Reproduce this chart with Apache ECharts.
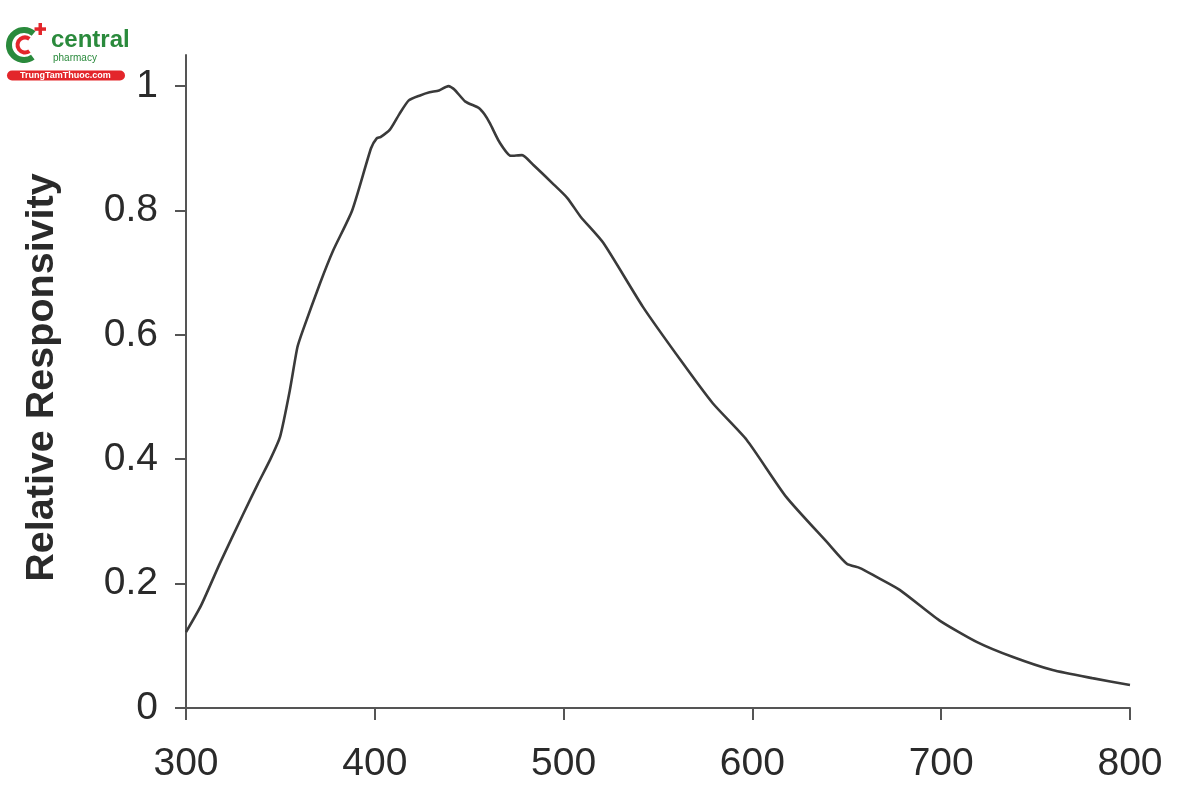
<!DOCTYPE html>
<html>
<head>
<meta charset="utf-8">
<script src="https://cdn.jsdelivr.net/npm/echarts@6/dist/echarts.min.js"></script>
<style>html,body{margin:0;padding:0;background:#fff}#c{width:1200px;height:800px}</style>
</head>
<body>
<div id="c"></div>
<script>
const wavelength = [300, 308, 318, 330, 338, 344.5, 349.8, 355, 359, 362, 371, 378, 388, 398, 401, 403, 408, 413, 418, 424, 429, 434, 439, 442, 448, 455, 458, 461, 466, 472, 478, 484, 494, 502, 509, 521, 542, 563, 579, 597, 618, 640, 650, 657, 665, 678, 699, 719, 738, 759, 780, 800];
const responsivity = [0.122, 0.165, 0.233, 0.31, 0.36, 0.399, 0.436, 0.511, 0.58, 0.608, 0.683, 0.736, 0.8, 0.9, 0.916, 0.918, 0.93, 0.955, 0.977, 0.985, 0.99, 0.993, 1.0, 0.995, 0.975, 0.965, 0.955, 0.94, 0.91, 0.888, 0.889, 0.873, 0.844, 0.82, 0.79, 0.748, 0.645, 0.555, 0.49, 0.431, 0.339, 0.265, 0.232, 0.225, 0.212, 0.19, 0.141, 0.106, 0.082, 0.061, 0.048, 0.037];
const xTicks = [300, 400, 500, 600, 700, 800];
const yTicks = [0, 0.2, 0.4, 0.6, 0.8, 1];
const yTitle = 'Relative Responsivity';

const chart = echarts.init(document.getElementById('c'), null, {renderer: 'canvas'});
const axisColor = '#555';
const labelFont = {fontFamily: 'Liberation Sans, Arial, sans-serif', fontSize: 39, color: '#2a2a2a'};
const green = '#2a8a3c';
const red = '#e3262b';

chart.setOption({
  animation: false,
  backgroundColor: '#fff',
  grid: {left: 186, right: 70, top: 55, bottom: 92},
  xAxis: {
    type: 'value', min: 300, max: 800, interval: 100,
    axisLine: {show: true, onZero: false, lineStyle: {color: axisColor, width: 2}},
    axisTick: {show: true, length: 12, lineStyle: {color: axisColor, width: 2}},
    axisLabel: Object.assign({margin: 37, customValues: xTicks}, labelFont),
    splitLine: {show: false}
  },
  yAxis: {
    type: 'value', min: 0, max: 1.05,
    name: yTitle, nameLocation: 'middle', nameGap: 124,
    nameTextStyle: {fontFamily: 'Liberation Sans, Arial, sans-serif', fontSize: 39.5, fontWeight: 'bold', color: '#2a2a2a', padding: [0, 0, 0, 8]},
    axisLine: {show: true, lineStyle: {color: axisColor, width: 2}},
    axisTick: {show: true, length: 11, customValues: yTicks, lineStyle: {color: axisColor, width: 2}},
    axisLabel: Object.assign({margin: 28, customValues: yTicks, formatter: v => String(+v.toFixed(1))}, labelFont),
    splitLine: {show: false}
  },
  series: [{
    type: 'line',
    data: wavelength.map((w, i) => [w, responsivity[i]]),
    showSymbol: false,
    smooth: 0.2,
    lineStyle: {color: '#3a3a3a', width: 2.6}
  }],
  graphic: [
    {type: 'arc', shape: {cx: 24, cy: 45, r: 15, startAngle: Math.PI * 0.3, endAngle: Math.PI * 1.72}, style: {stroke: green, lineWidth: 6, fill: null}},
    {type: 'arc', shape: {cx: 25, cy: 45, r: 7.5, startAngle: Math.PI * 0.3, endAngle: Math.PI * 1.7}, style: {stroke: red, lineWidth: 4, fill: null}},
    {type: 'rect', shape: {x: 38.5, y: 23, width: 3.5, height: 12}, style: {fill: red}},
    {type: 'rect', shape: {x: 34.5, y: 27.3, width: 11.5, height: 3.5}, style: {fill: red}},
    {type: 'text', left: 51, top: 28, style: {text: 'central', fill: green, font: 'bold 24px Liberation Sans, Arial'}},
    {type: 'text', left: 53, top: 53, style: {text: 'pharmacy', fill: green, font: '10px Liberation Sans, Arial'}},
    {type: 'rect', shape: {x: 7, y: 70.5, width: 118, height: 10, r: 5}, style: {fill: red}},
    {type: 'text', left: 20, top: 71, style: {text: 'TrungTamThuoc.com', fill: '#fff', font: 'bold 9px Liberation Sans, Arial'}}
  ]
});
</script>
</body>
</html>
